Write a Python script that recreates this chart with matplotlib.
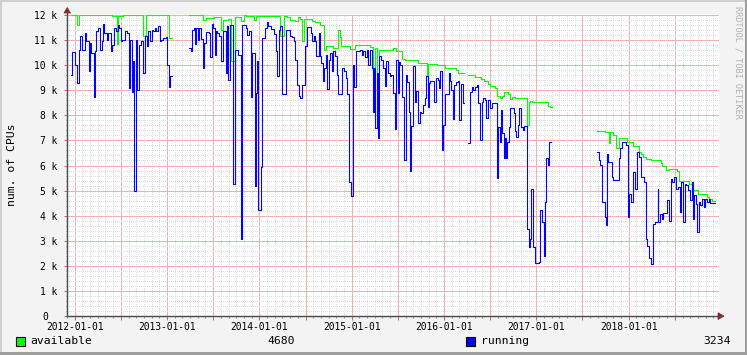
import numpy as np
import matplotlib
matplotlib.use('Agg')
import matplotlib.pyplot as plt
from matplotlib.patches import Rectangle, Polygon
from matplotlib.lines import Line2D
from matplotlib.transforms import ScaledTranslation

nan = np.nan

# ---------------- data (time in decimal years, values in CPUs) ----------------
available_t = [2011.965, 2012.025, 2012.047, 2012.401, 2012.455, 2012.473, 2012.527, 2012.742, 2012.767, 2013.018, 2013.054,
               2013.237, 2013.387, 2013.423, 2013.513, 2013.584, 2013.609, 2013.656, 2013.692, 2013.735, 2013.799, 2013.835,
               2013.853, 2013.943, 2013.968, 2014.229, 2014.265,
               2014.301, 2014.337, 2014.391, 2014.416, 2014.437, 2014.462, 2014.487, 2014.570, 2014.606, 2014.659, 2014.695,
               2014.724, 2014.803, 2014.849, 2014.875, 2014.885, 2014.982, 2015.036, 2015.197, 2015.233, 2015.254, 2015.276,
               2015.297, 2015.448,
               2015.484, 2015.548, 2015.573, 2015.717, 2015.817, 2015.832, 2015.925, 2016.014, 2016.129, 2016.147, 2016.219,
               2016.265, 2016.337, 2016.398, 2016.434, 2016.480, 2016.498, 2016.552, 2016.577, 2016.602, 2016.624, 2016.649,
               2016.696, 2016.720, 2016.739, 2016.774, 2016.900, 2016.918, 2016.935, 2016.954, 2017.126, 2017.143, 2017.172,
               2017.656, 2017.742, 2017.785, 2017.803, 2017.831, 2017.864, 2017.892, 2017.978, 2018.043, 2018.108, 2018.133,
               2018.158, 2018.186, 2018.240, 2018.348, 2018.366, 2018.401, 2018.437, 2018.527, 2018.545, 2018.652, 2018.695,
               2018.756, 2018.849, 2018.866, 2018.903, 2018.939]
available_v = [12000, 11610, 12000, 11950, 10850, 11950, 12000, 11150, 12000, 11100, nan,
               11990, 11810, 11880, 11940, 11410, 11810, 11840, 10150, 11940, 11750, 11990,
               11950, 11810, 11980, 11150, 11970,
               11910, 11810, 11750, 11910, 11840, 10950, 11840, 11770, 11720, 11610, 10610,
               10750, 10680, 11400, 11110, 10750, 10650, 10810, 10720, 9700, 10680, 9700,
               10600, 10680,
               10570, 10250, 10210, 10080, 9550, 10040, 10010, 9900, 9790, 9680, nan,
               9610, 9510, 9440, 9370, 9240, 9170, 9100, 8790, 8710, 8790, 8950,
               8840, 8650, 8750, 8700, 7600, 8520, 8570, 8520, 8390, 8350, nan,
               7390, 7350, 6880, 7350, 7210, 6680, 7110, 6950, 6790, 6550, 6440,
               6350, 6250, 6210, 6080, 5990, 5810, 5880, 5770, 5400, 5280, 5010,
               4880, 4750, 4650, 4570, 4570]

running_t = [2011.965, 2011.971, 2012.007, 2012.025, 2012.047, 2012.061, 2012.079, 2012.115, 2012.125, 2012.151,
             2012.168, 2012.179, 2012.204, 2012.215, 2012.233, 2012.251, 2012.276, 2012.294, 2012.305, 2012.319,
             2012.348, 2012.366, 2012.391, 2012.409, 2012.427, 2012.444, 2012.466, 2012.480, 2012.498, 2012.516,
             2012.545, 2012.566, 2012.588, 2012.595, 2012.616, 2012.627, 2012.645, 2012.659, 2012.677, 2012.699,
             2012.717, 2012.742, 2012.760, 2012.778, 2012.796, 2012.814, 2012.832, 2012.849, 2012.867, 2012.885,
             2012.903, 2012.921, 2012.939, 2012.957, 2012.986, 2013.004, 2013.018, 2013.029, 2013.054,
             2013.237, 2013.262, 2013.272, 2013.290, 2013.305, 2013.315, 2013.333, 2013.351, 2013.369, 2013.387,
             2013.398, 2013.423, 2013.452, 2013.470, 2013.491, 2013.502, 2013.520, 2013.530, 2013.541, 2013.566,
             2013.584, 2013.609, 2013.638, 2013.649, 2013.663, 2013.681, 2013.692, 2013.710, 2013.735, 2013.771,
             2013.799, 2013.810, 2013.853, 2013.871, 2013.889, 2013.914, 2013.925, 2013.950, 2013.961, 2013.978,
             2013.989, 2014.014, 2014.025, 2014.057, 2014.079, 2014.093, 2014.122, 2014.158, 2014.179, 2014.190,
             2014.211, 2014.229, 2014.247, 2014.290, 2014.330, 2014.355, 2014.373, 2014.391, 2014.409, 2014.427,
             2014.444, 2014.462, 2014.498, 2014.516, 2014.559, 2014.570, 2014.588, 2014.606, 2014.616, 2014.642,
             2014.652, 2014.670, 2014.688, 2014.703, 2014.724, 2014.738, 2014.749, 2014.767, 2014.785, 2014.803,
             2014.821, 2014.839, 2014.857, 2014.892, 2014.918, 2014.939, 2014.953, 2014.975, 2014.989, 2015.011,
             2015.029, 2015.043, 2015.090, 2015.108, 2015.125, 2015.143, 2015.161, 2015.179, 2015.197, 2015.215,
             2015.226, 2015.240, 2015.254, 2015.269, 2015.280, 2015.297, 2015.315, 2015.341, 2015.358, 2015.376,
             2015.394, 2015.412, 2015.430, 2015.448, 2015.466, 2015.484, 2015.502, 2015.513, 2015.527, 2015.545,
             2015.563, 2015.584, 2015.602, 2015.620, 2015.634, 2015.645, 2015.663, 2015.681, 2015.699, 2015.717,
             2015.735, 2015.753, 2015.771, 2015.789, 2015.806, 2015.824, 2015.835, 2015.853, 2015.896, 2015.914,
             2015.932, 2015.950, 2015.961, 2015.978, 2015.993, 2016.014, 2016.050, 2016.065, 2016.075, 2016.093,
             2016.111, 2016.129, 2016.147, 2016.165, 2016.183, 2016.201, 2016.219,
             2016.265, 2016.280, 2016.301, 2016.315, 2016.337, 2016.355, 2016.373, 2016.391, 2016.409, 2016.423,
             2016.444, 2016.459, 2016.480, 2016.498, 2016.516, 2016.570, 2016.584, 2016.602, 2016.613, 2016.631,
             2016.649, 2016.662, 2016.672, 2016.685, 2016.703, 2016.720, 2016.756, 2016.767, 2016.785, 2016.803,
             2016.817, 2016.835, 2016.853, 2016.864, 2016.900, 2016.918, 2016.935, 2016.946, 2016.961, 2016.982,
             2017.025, 2017.043, 2017.061, 2017.079, 2017.097, 2017.108, 2017.125, 2017.140, 2017.154,
             2017.656, 2017.677, 2017.692, 2017.706, 2017.742, 2017.756, 2017.763, 2017.778, 2017.821, 2017.835,
             2017.892, 2017.907, 2017.928, 2017.971, 2017.989, 2018.007, 2018.025, 2018.050, 2018.072, 2018.086,
             2018.108, 2018.133, 2018.168, 2018.186, 2018.204, 2018.222, 2018.240, 2018.265, 2018.283, 2018.315,
             2018.323, 2018.337, 2018.358, 2018.373, 2018.419, 2018.437, 2018.455, 2018.473, 2018.491, 2018.516,
             2018.530, 2018.552, 2018.570, 2018.588, 2018.609, 2018.624, 2018.645, 2018.659, 2018.681, 2018.695,
             2018.706, 2018.724, 2018.742, 2018.760, 2018.778, 2018.796, 2018.814, 2018.832, 2018.849, 2018.867,
             2018.885, 2018.939]
running_v = [9610, 10520, 10010, 9300, 10610, 11150, 10610, 11280, 10950, 9750,
             10880, 10480, 8750, 10550, 11350, 11480, 10610, 10950, 11640, 11280,
             11010, 11280, 10550, 10810, 11480, 11350, 11610, 11480, 10950, 11010,
             11350, 11280, 9080, 11010, 8950, 10150, 4990, 11010, 9010, 10810,
             10950, 9680, 11150, 10750, 11350, 10950, 11410, 11350, 11480, 11350,
             11550, 10950, 11010, 11080, 11110, 10010, 9110, 9550, nan,
             10680, 10570, 11410, 11480, 10840, 11480, 11010, 11480, 11050, 9880,
             10880, 11320, 11280, 10310, 11640, 11480, 10410, 11350, 11280, 11150,
             10150, 11370, 9680, 11550, 9410, 11610, 11590, 5250, 10610, 10410,
             3080, 11610, 11480, 11190, 11370, 8750, 10480, 5190, 8880, 10150,
             4210, 5950, 11100, 11480, 11720, 11550, 11450, 11240, 10550, 9550,
             11410, 11550, 8840, 11410, 11150, 11110, 10950, 10210, 9210, 8790,
             8680, 9190, 10750, 11510, 11280, 10950, 11150, 10950, 10350, 11280,
             10350, 10080, 9350, 9880, 10410, 9050, 10210, 10480, 9750, 10550,
             10350, 9610, 8840, 9880, 9750, 9480, 8840, 5350, 4790, 10010,
             9110, 10550, 10610, 10410, 10550, 10310, 10610, 10010, 10610, 9880,
             8150, 9880, 7510, 9680, 7110, 10350, 10210, 9880, 9150, 10150,
             9680, 9550, 9610, 8880, 7450, 10210, 8880, 10120, 10010, 8750,
             6210, 9610, 9320, 8150, 5770, 7590, 9950, 8550, 8970, 7680,
             8150, 8080, 8410, 8680, 9550, 8350, 9280, 9370, 8520, 9480,
             9410, 9080, 9750, 6610, 7610, 8840, 9680, 9370, 9010, 7850,
             9190, 9320, 9370, 7810, 9240, 8480, nan,
             6880, 8950, 9110, 9010, 9110, 9190, 8480, 7010, 8550, 8680,
             8610, 7880, 8610, 8280, 8480, 5520, 7550, 6950, 8220, 7280,
             6280, 7080, 6280, 6950, 7550, 8280, 8110, 7370, 7150, 7610,
             8280, 7550, 7410, 7590, 3450, 2750, 3080, 5080, 2750, 2120,
             2170, 4210, 3750, 2410, 4550, 6280, 6010, 6950, nan,
             6550, 6210, 6010, 4550, 3950, 3610, 6440, 6150, 5550, 5410,
             6280, 6680, 6950, 6810, 3950, 4880, 4550, 5750, 5080, 6520,
             6350, 5550, 5350, 3080, 2790, 2310, 2080, 3680, 3750, 5080,
             3750, 4080, 3850, 4120, 4610, 3770, 5480, 5350, 5550, 5080,
             5150, 4150, 5350, 3750, 5280, 5210, 5010, 4610, 5350, 3880,
             4840, 4480, 3350, 4550, 4410, 4680, 4350, 4680, 4550, 4650,
             4520, 4520]

series_names = ["available", "running"]
series_colors = ["#00ff00", "#0000ff"]
legend_values = ["4680", "3234"]
year_ticks = [2012, 2013, 2014, 2015, 2016, 2017, 2018]
y_ticks = [0, 1000, 2000, 3000, 4000, 5000, 6000, 7000, 8000, 9000, 10000, 11000, 12000]
y_labels = ["0", "1 k", "2 k", "3 k", "4 k", "5 k", "6 k", "7 k", "8 k", "9 k", "10 k", "11 k", "12 k"]

# ---------------- figure ----------------
W, H = 747, 355
fig = plt.figure(figsize=(W / 100, H / 100), dpi=100, facecolor='#f3f3f3')
MONO = 'DejaVu Sans Mono'


def fx(x):
    return x / W


def fy(y):
    return 1 - y / H


L, R, T, B = 67, 719, 14, 316
ax = fig.add_axes([fx(L), fy(B), (R - L) / W, (B - T) / H])
ax.set_facecolor('white')
ax.set_xlim(2011.9677, 2018.9785)
ax.set_ylim(0, 12040)

# grid
ax.set_xticks([2012 + 0.5 * i for i in range(14)])
ax.set_xticks([2012 + i / 12 for i in range(-1, 84)], minor=True)
ax.set_yticks(y_ticks)
ax.set_yticks(np.arange(0, 12001, 200), minor=True)
ax.grid(which='minor', color='#dedede', linestyle=(0, (1, 1.4)), linewidth=0.72, antialiased=False)
ax.grid(which='major', color='#eeb0b0', linestyle=(0, (1, 1)), linewidth=0.72, antialiased=False)
ax.set_axisbelow(True)

xt_labels = []
for i in range(14):
    v = 2012 + 0.5 * i
    xt_labels.append("%d-01-01" % int(v) if int(v) in year_ticks and i % 2 == 0 else "")
ax.set_xticklabels(xt_labels, fontfamily=MONO, fontsize=6.9)
ax.set_yticklabels(y_labels, fontfamily=MONO, fontsize=6.9)
ax.tick_params(axis='x', which='major', length=3, width=0.72, color='#c07070', pad=1.5)
ax.tick_params(axis='x', which='minor', length=1.5, width=0.72, color='#909090')
ax.tick_params(axis='y', which='major', length=2, width=0.72, color='#c07070', pad=5)
ax.tick_params(axis='y', which='minor', length=1, width=0.72, color='#909090')
# "0" label sits further left (rrdtool keeps the unit column)
for lab in ax.get_yticklabels():
    if lab.get_text() == "0":
        lab.set_transform(lab.get_transform() + ScaledTranslation(-9 / 100, 0, fig.dpi_scale_trans))

for s in ['top', 'right']:
    ax.spines[s].set_visible(False)
for s in ['bottom', 'left']:
    ax.spines[s].set_color('#505050')
    ax.spines[s].set_linewidth(0.9)

# data
ax.step(available_t, available_v, where='post', color=series_colors[0], lw=0.8, zorder=3)
ax.step(running_t, running_v, where='post', color=series_colors[1], lw=0.8, zorder=4)

# axis arrows
fig.add_artist(Line2D([fx(67), fx(67)], [fy(316), fy(9)], color='#505050', lw=0.9))
fig.add_artist(Line2D([fx(67), fx(722)], [fy(316), fy(316)], color='#505050', lw=0.9))
fig.add_artist(Polygon([(fx(64), fy(13)), (fx(70.5), fy(13)), (fx(67.2), fy(7.5))], closed=True,
                       facecolor='#9a1a1a', edgecolor='#9a1a1a', lw=0.5))
fig.add_artist(Polygon([(fx(718), fy(312.7)), (fx(718), fy(319.5)), (fx(724), fy(316.1))], closed=True,
                       facecolor='#9a1a1a', edgecolor='#9a1a1a', lw=0.5))

# labels
fig.text(fx(12), fy(165), 'num. of CPUs', rotation=90, ha='center', va='center',
         fontfamily=MONO, fontsize=8.2)
fig.text(fx(738), fy(62), 'RRDTOOL / TOBI OETIKER', rotation=270, ha='center', va='center',
         fontfamily=MONO, fontsize=6.1, color='#b0b0b0')

# legend
fig.add_artist(Rectangle((fx(16), fy(345.5)), 9 / W, 9 / H, facecolor=series_colors[0],
                         edgecolor='black', lw=0.8))
fig.text(fx(30), fy(341), series_names[0], ha='left', va='center', fontfamily=MONO, fontsize=8.2)
fig.text(fx(267), fy(341), legend_values[0], ha='left', va='center', fontfamily=MONO, fontsize=8.2)
fig.add_artist(Rectangle((fx(466), fy(345.5)), 9 / W, 9 / H, facecolor=series_colors[1],
                         edgecolor='black', lw=0.8))
fig.text(fx(481), fy(341), series_names[1], ha='left', va='center', fontfamily=MONO, fontsize=8.2)
fig.text(fx(703), fy(341), legend_values[1], ha='left', va='center', fontfamily=MONO, fontsize=8.2)

# frame shading
fig.add_artist(Rectangle((0, fy(2)), 1, 2 / H, facecolor='#cfcfcf', edgecolor='none'))
fig.add_artist(Rectangle((0, 0), 2 / W, 1, facecolor='#cfcfcf', edgecolor='none'))
fig.add_artist(Rectangle((0, 0), 1, 3 / H, facecolor='#9e9e9e', edgecolor='none'))
fig.add_artist(Rectangle((fx(745), 0), 2 / W, 1, facecolor='#9e9e9e', edgecolor='none'))

fig.savefig('out.png', dpi=100, facecolor=fig.get_facecolor())
